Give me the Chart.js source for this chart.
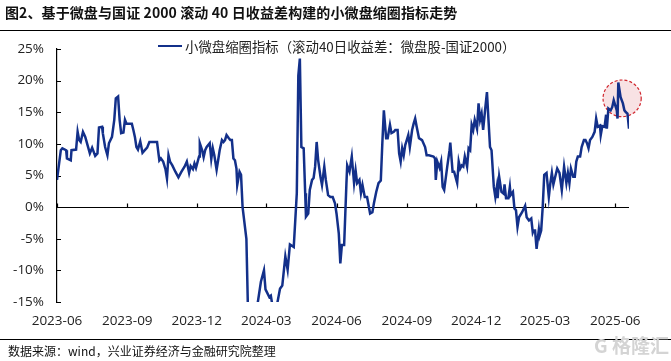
<!DOCTYPE html>
<html lang="zh-CN">
<head>
<meta charset="UTF-8">
<title>小微盘缩圈指标</title>
<script src="https://cdn.jsdelivr.net/npm/chart.js"></script>
<style>
  body { margin: 0; width: 671px; height: 361px; position: relative; overflow: hidden; background: #fff;
         font-family: "Noto Sans CJK SC", sans-serif; color: #111; }
  #chart { position: absolute; left: 0; top: 0; }
  #title { position: absolute; left: 5px; top: 2px; font-size: 14px; font-weight: bold; letter-spacing: 0.1px; }
  #topRule { position: absolute; left: 0; top: 30px; width: 671px; border-top: 1.5px solid #000; }
  #legend { position: absolute; left: 158px; top: 36px; font-size: 13.4px; display: flex; align-items: center; color: #222; }
  #legend .swatch { width: 24px; border-top: 2.5px solid #13308a; margin-right: 3px; }
  #bottomRule { position: absolute; left: 0; top: 339px; width: 671px; border-top: 1.5px solid #000; }
  #source { position: absolute; left: 8px; top: 342px; font-size: 12px; }
  #mark { position: absolute; left: 594px; top: 331px; font-size: 19px; color: #d4d4d4; font-weight: bold; }
</style>
</head>
<body>
<canvas id="chart" width="671" height="361"></canvas>
<div id="title">图2、基于微盘与国证 2000 滚动 40 日收益差构建的小微盘缩圈指标走势</div>
<div id="topRule"></div>
<div id="legend"></div>
<div id="bottomRule"></div>
<div id="source">数据来源：wind，兴业证券经济与金融研究院整理</div>
<div id="mark">G 格隆汇</div>

<script>
// dates and values (values in %)
const dates = [
  '2023-06-01','2023-06-06','2023-06-08','2023-06-13','2023-06-14','2023-06-19','2023-06-20','2023-06-26','2023-06-28','2023-06-30',
  '2023-07-02','2023-07-05','2023-07-08','2023-07-11','2023-07-14','2023-07-17','2023-07-21','2023-07-24','2023-07-26','2023-07-30','2023-07-31',
  '2023-08-03','2023-08-06','2023-08-08','2023-08-12','2023-08-15','2023-08-17','2023-08-20','2023-08-22','2023-08-24','2023-08-27','2023-08-29','2023-08-31',
  '2023-09-02','2023-09-07','2023-09-09','2023-09-11','2023-09-13','2023-09-15','2023-09-18','2023-09-21','2023-09-24','2023-09-27','2023-09-30',
  '2023-10-10','2023-10-13','2023-10-15','2023-10-18','2023-10-21','2023-10-23','2023-10-25','2023-10-27','2023-10-30',
  '2023-11-03','2023-11-07','2023-11-11','2023-11-15','2023-11-18','2023-11-21','2023-11-23','2023-11-26','2023-11-28','2023-11-30',
  '2023-12-04','2023-12-05','2023-12-08','2023-12-10','2023-12-12','2023-12-14','2023-12-18','2023-12-20','2023-12-22','2023-12-24','2023-12-27','2023-12-29','2023-12-31',
  '2024-01-03','2024-01-05','2024-01-07','2024-01-09','2024-01-12','2024-01-14','2024-01-16','2024-01-18','2024-01-20','2024-01-22','2024-01-23','2024-01-26','2024-01-28','2024-01-30',
  '2024-02-04','2024-02-06','2024-02-11','2024-02-17','2024-02-19','2024-02-23','2024-02-27','2024-02-29',
  '2024-03-05','2024-03-07','2024-03-09','2024-03-15','2024-03-19','2024-03-22','2024-03-26','2024-03-29',
  '2024-04-01','2024-04-06','2024-04-08','2024-04-10','2024-04-12','2024-04-14','2024-04-16','2024-04-19','2024-04-21','2024-04-22','2024-04-25','2024-04-27','2024-04-30',
  '2024-05-02','2024-05-04','2024-05-06','2024-05-08','2024-05-11','2024-05-13','2024-05-16','2024-05-18','2024-05-21','2024-05-24','2024-05-27','2024-05-30',
  '2024-06-01','2024-06-04','2024-06-06','2024-06-08','2024-06-11','2024-06-14','2024-06-15','2024-06-18','2024-06-21','2024-06-24','2024-06-26','2024-06-28',
  '2024-07-01','2024-07-03','2024-07-05','2024-07-08','2024-07-11','2024-07-15','2024-07-18','2024-07-20','2024-07-23','2024-07-26','2024-07-29','2024-07-31',
  '2024-08-02','2024-08-05','2024-08-07','2024-08-10','2024-08-12','2024-08-15','2024-08-17','2024-08-20','2024-08-22','2024-08-24','2024-08-26','2024-08-28','2024-08-30',
  '2024-09-01','2024-09-03','2024-09-05','2024-09-08','2024-09-10','2024-09-12','2024-09-14','2024-09-17','2024-09-21','2024-09-25','2024-09-27','2024-09-30',
  '2024-10-06','2024-10-08','2024-10-09','2024-10-11','2024-10-14','2024-10-16','2024-10-18','2024-10-20','2024-10-24','2024-10-27','2024-10-28','2024-10-31',
  '2024-11-02','2024-11-06','2024-11-08','2024-11-10','2024-11-12','2024-11-14','2024-11-16','2024-11-19','2024-11-21','2024-11-23','2024-11-25','2024-11-27','2024-11-29',
  '2024-12-02','2024-12-04','2024-12-06','2024-12-08','2024-12-10','2024-12-13','2024-12-15','2024-12-17','2024-12-19','2024-12-21','2024-12-24','2024-12-26','2024-12-28','2024-12-29','2024-12-31',
  '2025-01-03','2025-01-06','2025-01-07','2025-01-09','2025-01-12','2025-01-14','2025-01-15','2025-01-18','2025-01-20','2025-01-22','2025-01-24','2025-01-26','2025-01-30',
  '2025-02-03','2025-02-05','2025-02-08','2025-02-11','2025-02-13','2025-02-14','2025-02-16','2025-02-18','2025-02-21','2025-02-22','2025-02-24','2025-02-26','2025-02-28',
  '2025-03-03','2025-03-06','2025-03-08','2025-03-10','2025-03-12','2025-03-14','2025-03-17','2025-03-20','2025-03-23','2025-03-26','2025-03-29','2025-03-31',
  '2025-04-02','2025-04-04','2025-04-07','2025-04-09','2025-04-11','2025-04-13','2025-04-16','2025-04-18','2025-04-21','2025-04-23','2025-04-25','2025-04-27','2025-04-29',
  '2025-05-02','2025-05-05','2025-05-07','2025-05-09','2025-05-12','2025-05-13','2025-05-15','2025-05-18','2025-05-20','2025-05-21','2025-05-23','2025-05-26','2025-05-28','2025-05-30',
  '2025-06-01','2025-06-03','2025-06-04','2025-06-05','2025-06-08','2025-06-11','2025-06-13','2025-06-15','2025-06-17','2025-06-19'
];
const values = [
  4.3, 9.0, 9.3, 9.0, 7.7, 7.4, 9.0, 9.1, 11.9, 10.6,
  10.3, 11.9, 11.1, 9.8, 8.5, 9.4, 8.1, 8.5, 12.6, 12.7, 11.7,
  9.5, 8.2, 10.1, 11.1, 13.8, 17.2, 17.5, 13.8, 11.7, 11.8, 13.8, 13.2,
  13.2, 13.2, 12.2, 11.1, 9.5, 9.1, 10.4, 8.6, 9.0, 9.4, 10.3,
  10.3, 7.4, 7.7, 7.2, 6.0, 4.5, 8.2, 7.2, 6.6,
  5.6, 4.7, 5.6, 6.4, 7.2, 5.4, 6.5, 6.0, 6.9, 6.2,
  8.0, 10.1, 9.0, 7.9, 9.0, 9.5, 10.1, 7.6, 9.3, 8.2, 5.9, 7.4, 9.0,
  10.6, 10.3, 10.6, 11.4, 10.9, 10.6, 10.6, 7.7, 7.4, 6.1, 3.5, 5.6, 5.1, 0.0,
  -5.0, -16.0, -20.0, -16.5, -15.0, -11.8, -10.0, -13.0,
  -14.2, -14.0, -15.5, -15.5, -12.9, -12.4, -7.8, -9.9,
  -5.9, -6.3, -2.1, 2.2, 20.8, 23.5, 9.5, 9.3, 2.2, -1.5, -1.0, 2.7, 4.3,
  4.6, 6.4, 10.3, 7.4, 4.8, 3.5, 6.4, 4.3, 1.9, 1.6, 1.6, 0.6,
  -1.0, -4.2, -8.9, -6.0, -6.0, 3.8, 6.6, 5.6, 8.0, 3.8, 5.8, 3.8,
  4.3, 2.2, 3.5, 1.6, 1.6, -1.0, -0.8, 0.6, 2.4, 3.8, 4.2, 10.1,
  15.3, 10.9, 10.9, 13.0, 11.7, 11.9, 12.2, 12.2, 8.5, 7.2, 9.3, 8.2, 9.8,
  10.6, 11.4, 9.5, 12.2, 13.2, 14.0, 12.7, 10.9, 10.6, 9.5, 8.2, 8.2,
  8.0, 7.7, 4.3, 7.2, 6.2, 7.2, 3.2, 2.7, 6.4, 9.0, 10.2, 5.6,
  5.6, 3.8, 7.2, 6.1, 6.6, 6.4, 8.0, 6.4, 9.3, 9.0, 13.0, 12.2, 13.8,
  12.4, 16.4, 13.8, 14.8, 12.2, 15.9, 18.2, 13.8, 9.5, 9.0, 3.2, 1.6, 3.2, 1.4, 4.8,
  2.4, 2.1, 3.6, 1.4, 1.4, 3.2, 1.9, 2.4, -0.2, -0.5, -3.1, -1.6, -0.8,
  0.2, -1.6, -2.1, -1.8, -4.0, -3.7, -3.7, -6.6, -3.5, -4.5, -3.7, 0.0, 5.1,
  5.4, 1.6, 3.8, 5.4, 3.6, 4.6, 6.1, 5.4, 2.7, 6.4, 3.8, 5.4,
  3.8, 6.1, 4.8, 4.8, 7.2, 8.0, 8.0, 9.5, 10.6, 10.6, 10.1, 9.3, 10.6,
  11.1, 11.9, 14.0, 12.7, 12.9, 11.4, 12.8, 12.7, 14.6, 12.4, 15.6, 15.3, 15.8, 16.9,
  16.1, 15.3, 14.0, 19.7, 17.4, 16.4, 15.3, 15.0, 14.8, 12.4
];
const tickLabels = ['2023-06','2023-09','2023-12','2024-03','2024-06','2024-09','2024-12','2025-03','2025-06'];
const seriesName = '小微盘缩圈指标（滚动40日收益差：微盘股-国证2000）';
// highlighted recent peak: centre date/value, half-width in days, half-height in %
const highlight = { date: '2025-06-10', value: 17.2, rx: 25, ry: 2.9 };

const startMs = Date.UTC(2023, 5, 1);
function dayOf(s) {
  const p = s.split('-').map(Number);
  return (Date.UTC(p[0], p[1] - 1, p[2] || 1) - startMs) / 86400000;
}
const points = dates.map((d, i) => ({ x: dayOf(d), y: values[i] }));
const lineColor = '#13308a';

document.getElementById('legend').innerHTML =
  '<span class="swatch"></span><span>' + seriesName + '</span>';

const axisDecor = {
  id: 'axisDecor',
  beforeDatasetsDraw(chart) {
    const { ctx, chartArea, scales: { x, y } } = chart;
    // dashed ellipse around the latest peak
    const cx = x.getPixelForValue(dayOf(highlight.date));
    const cy = y.getPixelForValue(highlight.value);
    const rx = x.getPixelForValue(dayOf(highlight.date) + highlight.rx) - cx;
    const ry = cy - y.getPixelForValue(highlight.value + highlight.ry);
    ctx.save();
    ctx.beginPath();
    ctx.ellipse(cx, cy, rx, ry, 0, 0, Math.PI * 2);
    ctx.fillStyle = 'rgba(240, 190, 195, 0.45)';
    ctx.fill();
    ctx.setLineDash([3, 2]);
    ctx.strokeStyle = '#d0262e';
    ctx.lineWidth = 1.2;
    ctx.stroke();
    ctx.restore();

    // zero line acting as x axis, with inward tick marks
    const y0 = Math.round(y.getPixelForValue(0)) + 0.5;
    ctx.save();
    ctx.strokeStyle = '#000';
    ctx.lineWidth = 1.2;
    ctx.beginPath();
    ctx.moveTo(chartArea.left, y0);
    ctx.lineTo(chartArea.right, y0);
    x.ticks.forEach(t => {
      const px = Math.round(x.getPixelForValue(t.value)) + 0.5;
      ctx.moveTo(px, y0);
      ctx.lineTo(px, y0 - 4);
    });
    y.ticks.forEach(t => {
      const py = Math.round(y.getPixelForValue(t.value)) + 0.5;
      ctx.moveTo(chartArea.left, py);
      ctx.lineTo(chartArea.left + 4, py);
    });
    ctx.stroke();
    ctx.restore();
  }
};

new Chart(document.getElementById('chart'), {
  type: 'line',
  data: {
    datasets: [{
      label: seriesName,
      data: points,
      borderColor: lineColor,
      borderWidth: 2.5,
      pointRadius: 0,
      tension: 0,
      fill: false
    }]
  },
  options: {
    responsive: false,
    animation: false,
    layout: { padding: { top: 49, right: 42, bottom: 29, left: 0 } },
    plugins: { legend: { display: false }, tooltip: { enabled: false } },
    scales: {
      x: {
        type: 'linear',
        min: 0,
        max: dayOf(dates[dates.length - 1]),
        grid: { display: false, drawTicks: false },
        border: { display: false },
        afterBuildTicks: s => { s.ticks = tickLabels.map(t => ({ value: dayOf(t) })); },
        afterFit: s => { s.height = 30; },
        ticks: {
          autoSkip: false,
          maxRotation: 0,
          padding: 11,
          color: '#222',
          font: { family: 'Open Sans', size: 13.5 },
          callback: v => tickLabels.find(t => dayOf(t) === v) || ''
        }
      },
      y: {
        min: -15,
        max: 25,
        grid: { display: false, drawTicks: false },
        border: { display: true, color: '#000', width: 1.2 },
        afterFit: s => { s.width = 57; },
        ticks: {
          stepSize: 5,
          padding: 13,
          color: '#222',
          font: { family: 'Open Sans', size: 13.5 },
          callback: v => v + '%'
        }
      }
    }
  },
  plugins: [axisDecor]
});
</script>
</body>
</html>
